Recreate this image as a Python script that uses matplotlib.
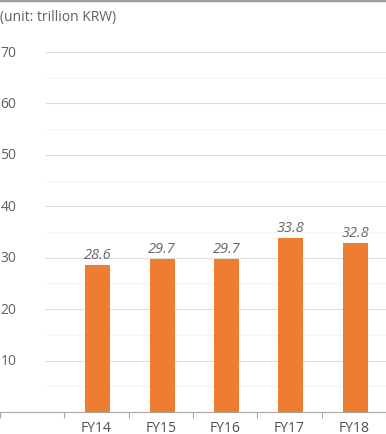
import numpy as np
import matplotlib.pyplot as plt
from matplotlib.transforms import blended_transform_factory

# data
years = ["FY14", "FY15", "FY16", "FY17", "FY18"]
values = [28.6, 29.7, 29.7, 33.8, 32.8]
y_ticks = [10, 20, 30, 40, 50, 60, 70]
y_minor = [5, 15, 25, 35, 45, 55, 65]

plt.rcParams["font.family"] = ["Open Sans", "DejaVu Sans"]

fig = plt.figure(figsize=(3.86, 4.35), dpi=100)
ax = fig.add_axes([0, 22 / 435, 1, 360 / 435])

x = np.arange(len(years))
ax.set_xlim(-1.5, len(years) - 0.5)
ax.set_ylim(0, 70)

# gridlines (start a bit right of the y labels)
gx0 = -1.5 + 45 / 386 * (len(years) + 1)
ax.hlines(y_minor, gx0, len(years) - 0.5, color="#f4f4f4", lw=0.8, zorder=0)
ax.hlines(y_ticks, gx0, len(years) - 0.5, color="#dcdcdc", lw=0.8, zorder=0)

bars = ax.bar(x + 0.02, values, width=0.39, color="#ED7D31", zorder=2)

for xi, v in zip(x, values):
    ax.text(xi + 0.02, v + 0.6, f"{v:.1f}", ha="center", va="bottom",
            fontsize=10.5, style="italic", color="#666666")

# y labels drawn inside at left
tr = blended_transform_factory(ax.transAxes, ax.transData)
for t in y_ticks:
    ax.text(0.5 / 386, t, str(t), transform=tr, ha="left", va="center",
            fontsize=10, color="#606060")

ax.set_yticks([])
ax.set_xticks(np.arange(-1.5, len(years), 1.0))
ax.set_xticklabels([])
ax.tick_params(axis="x", direction="out", length=4, color="#a6a6a6", width=0.8)
ax.set_xticks(x, minor=True)
ax.set_xticklabels(years, minor=True)
ax.tick_params(axis="x", which="minor", length=0, pad=6, labelsize=10,
               labelcolor="#505050")

for s in ["top", "right", "left"]:
    ax.spines[s].set_visible(False)
ax.spines["bottom"].set_color("#a6a6a6")
ax.spines["bottom"].set_linewidth(0.8)

fig.text(0.5 / 386, 1 - 17 / 435, "(unit: trillion KRW)", ha="left", va="center",
         fontsize=10, color="#606060")
fig.add_artist(plt.Line2D([0, 1], [1 - 1 / 435, 1 - 1 / 435], color="#a0a0a0",
                          lw=2.5, transform=fig.transFigure))

plt.savefig("out.png", dpi=100)
